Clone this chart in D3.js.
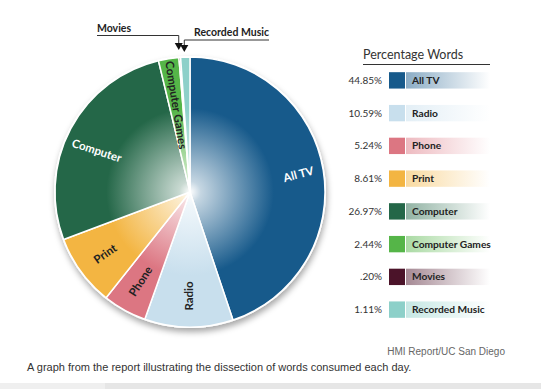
<html>
    <head>
        <meta charset="utf-8">
        <style>
            body { margin: 0; background: #fff; }
            svg { display: block; }
        </style>
    </head>
    <body>
        <svg width="541" height="389"></svg>
        <script src="https://cdnjs.cloudflare.com/ajax/libs/d3/7.8.5/d3.min.js"></script>
        <script>
            const categories = ['All TV', 'Radio', 'Phone', 'Print', 'Computer', 'Computer Games', 'Movies', 'Recorded Music'];
            const values = [44.85, 10.59, 5.24, 8.61, 26.97, 2.44, 0.20, 1.11];
            const valueLabels = ['44.85%', '10.59%', '5.24%', '8.61%', '26.97%', '2.44%', '.20%', '1.11%'];
            const colors = ['#175a8b', '#c8dfed', '#dc7682', '#f3b542', '#246748', '#55b548', '#4b1329', '#8dd0c9'];
            const pieLabels = ['All TV', 'Radio', 'Phone', 'Print', 'Computer', 'Computer Games', '', ''];
            const labelColors = ['#fff', '#222', '#222', '#222', '#fff', '#222', '#222', '#222'];

            const data = categories.map((c, i) => ({ name: c, value: values[i], pct: valueLabels[i], color: colors[i], label: pieLabels[i], labelColor: labelColors[i] }));

            // hand placement of the in-slice labels (radius, angle shift in degrees, rotation)
            const labelPlace = {
                'All TV': { r: 110, shift: 0, rot: -15 },
                'Radio': { r: 104, shift: 0, rot: -90 },
                'Phone': { r: 102, shift: 0, rot: -57 },
                'Print': { r: 105, shift: 0, rot: -35 },
                'Computer': { r: 102, shift: -4, rot: 18 },
                'Computer Games': { r: 88, shift: 0, rot: 81 }
            };

            const svg = d3.select('svg');
            const width = +svg.attr('width');
            const height = +svg.attr('height');

            const cx = 190, cy = 192, radius = 135;
            const defs = svg.append('defs');

            // shadow under the pie
            const shadow = defs.append('filter').attr('id', 'shadow')
                .attr('x', '-20%').attr('y', '-20%').attr('width', '140%').attr('height', '140%');
            shadow.append('feDropShadow')
                .attr('dx', 1).attr('dy', 4).attr('stdDeviation', 3)
                .attr('flood-color', '#000').attr('flood-opacity', 0.35);

            data.forEach((d, i) => {
                const g = defs.append('radialGradient').attr('id', 'rg' + i)
                    .attr('gradientUnits', 'userSpaceOnUse')
                    .attr('cx', 0).attr('cy', 0).attr('r', radius);
                g.append('stop').attr('offset', 0).attr('stop-color', '#fff');
                g.append('stop').attr('offset', 0.08).attr('stop-color', d3.interpolateRgb(d.color, '#fff')(0.75));
                g.append('stop').attr('offset', 0.62).attr('stop-color', d.color);
                g.append('stop').attr('offset', 1).attr('stop-color', d.color);

                const lg = defs.append('linearGradient').attr('id', 'lg' + i)
                    .attr('x1', 0).attr('x2', 1).attr('y1', 0).attr('y2', 0);
                lg.append('stop').attr('offset', 0).attr('stop-color', d.color).attr('stop-opacity', 0.5);
                lg.append('stop').attr('offset', 1).attr('stop-color', d.color).attr('stop-opacity', 0);
            });

            const pie = d3.pie().sort(null).value(d => d.value);
            const arcs = pie(data);
            const arc = d3.arc().innerRadius(0).outerRadius(radius);

            const g = svg.append('g').attr('transform', `translate(${cx},${cy})`);

            g.append('circle').attr('r', radius + 1).attr('fill', '#fff').attr('filter', 'url(#shadow)');

            g.selectAll('path.slice')
                .data(arcs)
                .enter().append('path')
                .attr('class', 'slice')
                .attr('d', arc)
                .attr('fill', (d, i) => `url(#rg${i})`)
                .attr('stroke', '#fff')
                .attr('stroke-width', 1.5)
                .attr('stroke-linejoin', 'round');

            g.selectAll('text.lbl')
                .data(arcs.filter(d => d.data.label))
                .enter().append('text')
                .attr('class', 'lbl')
                .attr('transform', d => {
                    const p = labelPlace[d.data.name];
                    const a = (d.startAngle + d.endAngle) / 2 + p.shift * Math.PI / 180;
                    return `translate(${p.r * Math.sin(a)},${-p.r * Math.cos(a)}) rotate(${p.rot})`;
                })
                .attr('text-anchor', 'middle')
                .attr('dy', '0.35em')
                .attr('font-family', 'Lato, sans-serif')
                .attr('font-weight', 'bold')
                .attr('font-size', 11.5)
                .attr('fill', d => d.data.labelColor)
                .text(d => d.data.label);

            // callouts for the thin slices
            const callouts = [
                { name: 'Movies', textX: 97, textY: 32, lineY: 35.5, tipY: 50, anchor: 'start' },
                { name: 'Recorded Music', textX: 269, textY: 36, lineY: 40, tipY: 52, anchor: 'end' }
            ];
            callouts.forEach(c => {
                const d = arcs.find(a => a.data.name === c.name);
                const a = (d.startAngle + d.endAngle) / 2;
                const x = cx + radius * Math.sin(a) - 1;
                svg.append('path')
                    .attr('d', `M${c.textX},${c.lineY}H${x}V${c.tipY - 6}`)
                    .attr('fill', 'none').attr('stroke', '#333').attr('stroke-width', 1);
                svg.append('path')
                    .attr('d', `M${x - 4},${c.tipY - 7}L${x + 4},${c.tipY - 7}L${x},${c.tipY}Z`)
                    .attr('fill', '#111');
                svg.append('text')
                    .attr('x', c.textX).attr('y', c.textY)
                    .attr('text-anchor', c.anchor)
                    .attr('font-family', 'Lato, sans-serif')
                    .attr('font-weight', 'bold')
                    .attr('font-size', 10.5)
                    .attr('fill', '#222')
                    .text(c.name);
            });

            // legend
            const legend = svg.append('g');
            legend.append('text')
                .attr('x', 363).attr('y', 59)
                .attr('font-family', 'Lato, sans-serif')
                .attr('font-size', 12.5)
                .attr('fill', '#333')
                .text('Percentage Words');
            legend.append('line')
                .attr('x1', 363).attr('x2', 490).attr('y1', 64.5).attr('y2', 64.5)
                .attr('stroke', '#333').attr('stroke-width', 1.2);

            const y = d3.scaleBand().domain(categories).range([64, 326]).paddingInner(0.5).paddingOuter(0.25);

            const rows = legend.selectAll('g.row')
                .data(data)
                .enter().append('g')
                .attr('class', 'row')
                .attr('transform', d => `translate(0,${y(d.name)})`);

            rows.append('rect')
                .attr('x', 389).attr('width', 16).attr('height', y.bandwidth())
                .attr('fill', d => d.color);
            rows.append('rect')
                .attr('x', 406).attr('width', 84).attr('height', y.bandwidth())
                .attr('fill', (d, i) => `url(#lg${i})`);
            rows.append('text')
                .attr('x', 382).attr('y', y.bandwidth() / 2).attr('dy', '0.35em')
                .attr('text-anchor', 'end')
                .attr('font-family', 'Lato, sans-serif')
                .attr('font-size', 10)
                .attr('fill', '#333')
                .text(d => d.pct);
            rows.append('text')
                .attr('x', 412).attr('y', y.bandwidth() / 2).attr('dy', '0.35em')
                .attr('font-family', 'Lato, sans-serif')
                .attr('font-weight', 'bold')
                .attr('font-size', 10.2)
                .attr('fill', '#222')
                .text(d => d.name);

            // credit and caption
            svg.append('text')
                .attr('x', 505).attr('y', 355)
                .attr('text-anchor', 'end')
                .attr('font-family', 'Liberation Sans, Arial, sans-serif')
                .attr('font-size', 10)
                .attr('fill', '#666')
                .text('HMI Report/UC San Diego');
            svg.append('text')
                .attr('x', 27).attr('y', 371)
                .attr('font-family', 'Liberation Sans, Arial, sans-serif')
                .attr('font-size', 11)
                .attr('fill', '#333')
                .text('A graph from the report illustrating the dissection of words consumed each day.');
            svg.append('rect')
                .attr('x', 0).attr('y', 383).attr('width', width).attr('height', height - 383)
                .attr('fill', '#e6e6e6');
            svg.append('rect')
                .attr('x', 0).attr('y', 383).attr('width', 105).attr('height', height - 383)
                .attr('fill', '#efefef');
        </script>
    </body>
</html>
